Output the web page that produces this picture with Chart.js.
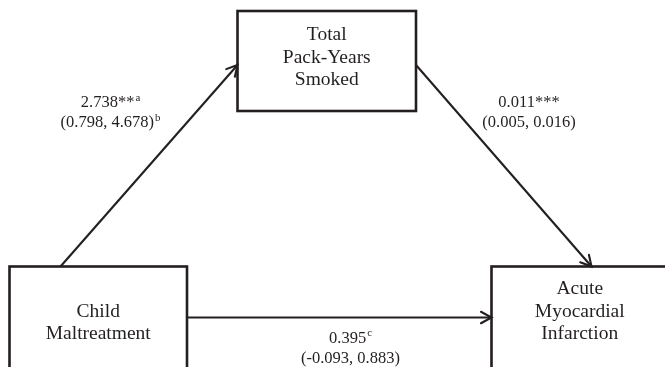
<!DOCTYPE html>
<html>
<head>
<meta charset="utf-8">
<script src="https://cdn.jsdelivr.net/npm/chart.js@4"></script>
<style>
  html, body { margin: 0; padding: 0; background: #ffffff; }
  #wrap { width: 665px; height: 367px; }
</style>
</head>
<body>
<div id="wrap"><canvas id="c" width="665" height="367"></canvas></div>
<script>
// Variables in the mediation model (one line of text per entry)
const nodeLabels = [
  ['Child', 'Maltreatment'],
  ['Total', 'Pack-Years', 'Smoked'],
  ['Acute', 'Myocardial', 'Infarction']
];
// Path coefficients: a (X -> M), b (M -> Y), c' (X -> Y)
const pathEstimates = [2.738, 0.011, 0.395];
const pathStars = ['**', '***', ''];
const ciLower = [0.798, 0.005, -0.093];
const ciUpper = [4.678, 0.016, 0.883];
const estimateNotes = ['a', '', 'c'];
const ciNotes = ['b', '', ''];

// Layout of the diagram (pixel-space coordinates on the hidden scales)
const boxes = [
  { x0: 9.5, y0: 266.5, x1: 187, y1: 420, textY: [311.5, 333.5] },
  { x0: 237.5, y0: 11, x1: 416, y1: 111, textY: [35, 57.5, 80] },
  { x0: 491.5, y0: 266.5, x1: 670, y1: 420, textY: [289, 311.5, 333.5] }
];
const arrows = [
  { from: [60.5, 266.5], to: [237.5, 65] },
  { from: [416, 65], to: [591.5, 266.5] },
  { from: [187, 317.5], to: [491.5, 317.5] }
];
const labelPos = [
  { x: 110.5, y: 103, y2: 123 },
  { x: 529, y: 103, y2: 123 },
  { x: 350.5, y: 338.5, y2: 358.5 }
];

const INK = '#231f20';
const SERIF = '"Liberation Serif", "Times New Roman", serif';

const pathDatasets = arrows.map(a => ({
  type: 'scatter',
  data: [{ x: a.from[0], y: a.from[1] }, { x: a.to[0], y: a.to[1] }],
  showLine: true,
  borderColor: INK,
  borderWidth: 2.1,
  pointRadius: 0,
  fill: false,
  clip: false
}));

function drawRich(ctx, cx, cy, main, sup, size) {
  ctx.font = size + 'px ' + SERIF;
  const wMain = ctx.measureText(main).width;
  ctx.font = (size * 0.66) + 'px ' + SERIF;
  const wSup = sup ? ctx.measureText(sup).width + 1 : 0;
  const left = cx - (wMain + wSup) / 2;
  ctx.textAlign = 'left';
  ctx.textBaseline = 'middle';
  ctx.font = size + 'px ' + SERIF;
  ctx.fillText(main, left, cy);
  if (sup) {
    ctx.font = (size * 0.66) + 'px ' + SERIF;
    ctx.fillText(sup, left + wMain + 1, cy - size * 0.32);
  }
}

const diagramPlugin = {
  id: 'diagram',
  afterDatasetsDraw(chart) {
    const ctx = chart.ctx;
    const xs = chart.scales.x, ys = chart.scales.y;
    const px = v => xs.getPixelForValue(v);
    const py = v => ys.getPixelForValue(v);
    ctx.save();
    // boxes and their labels
    boxes.forEach((b, i) => {
      ctx.strokeStyle = INK;
      ctx.lineWidth = 2.6;
      ctx.strokeRect(px(b.x0), py(b.y0), px(b.x1) - px(b.x0), py(b.y1) - py(b.y0));
      ctx.fillStyle = INK;
      ctx.font = '19.5px ' + SERIF;
      ctx.textAlign = 'center';
      ctx.textBaseline = 'middle';
      const cx = (px(b.x0) + px(Math.min(b.x1, 668))) / 2;
      nodeLabels[i].forEach((line, k) => ctx.fillText(line, cx, py(b.textY[k])));
    });
    // open arrowheads
    arrows.forEach(a => {
      const x1 = px(a.from[0]), y1 = py(a.from[1]);
      const x2 = px(a.to[0]), y2 = py(a.to[1]);
      const ang = Math.atan2(y2 - y1, x2 - x1);
      const len = 12, spread = 0.5;
      ctx.strokeStyle = INK;
      ctx.lineWidth = 2.1;
      ctx.lineCap = 'round';
      ctx.beginPath();
      ctx.moveTo(x2 - len * Math.cos(ang - spread), y2 - len * Math.sin(ang - spread));
      ctx.lineTo(x2, y2);
      ctx.lineTo(x2 - len * Math.cos(ang + spread), y2 - len * Math.sin(ang + spread));
      ctx.stroke();
    });
    // coefficient labels
    ctx.fillStyle = INK;
    pathEstimates.forEach((est, i) => {
      const p = labelPos[i];
      drawRich(ctx, px(p.x), py(p.y), est.toFixed(3) + pathStars[i], estimateNotes[i], 16.5);
      const ci = '(' + ciLower[i].toFixed(3) + ', ' + ciUpper[i].toFixed(3) + ')';
      drawRich(ctx, px(p.x), py(p.y2), ci, ciNotes[i], 16.5);
    });
    ctx.restore();
  }
};

new Chart(document.getElementById('c'), {
  type: 'scatter',
  data: { datasets: pathDatasets },
  options: {
    responsive: false,
    animation: false,
    devicePixelRatio: 1,
    layout: { padding: 0 },
    plugins: { legend: { display: false }, tooltip: { enabled: false }, title: { display: false } },
    scales: {
      x: { type: 'linear', min: 0, max: 665, display: false },
      y: { type: 'linear', min: 0, max: 367, reverse: true, display: false }
    }
  },
  plugins: [diagramPlugin]
});
</script>
</body>
</html>
